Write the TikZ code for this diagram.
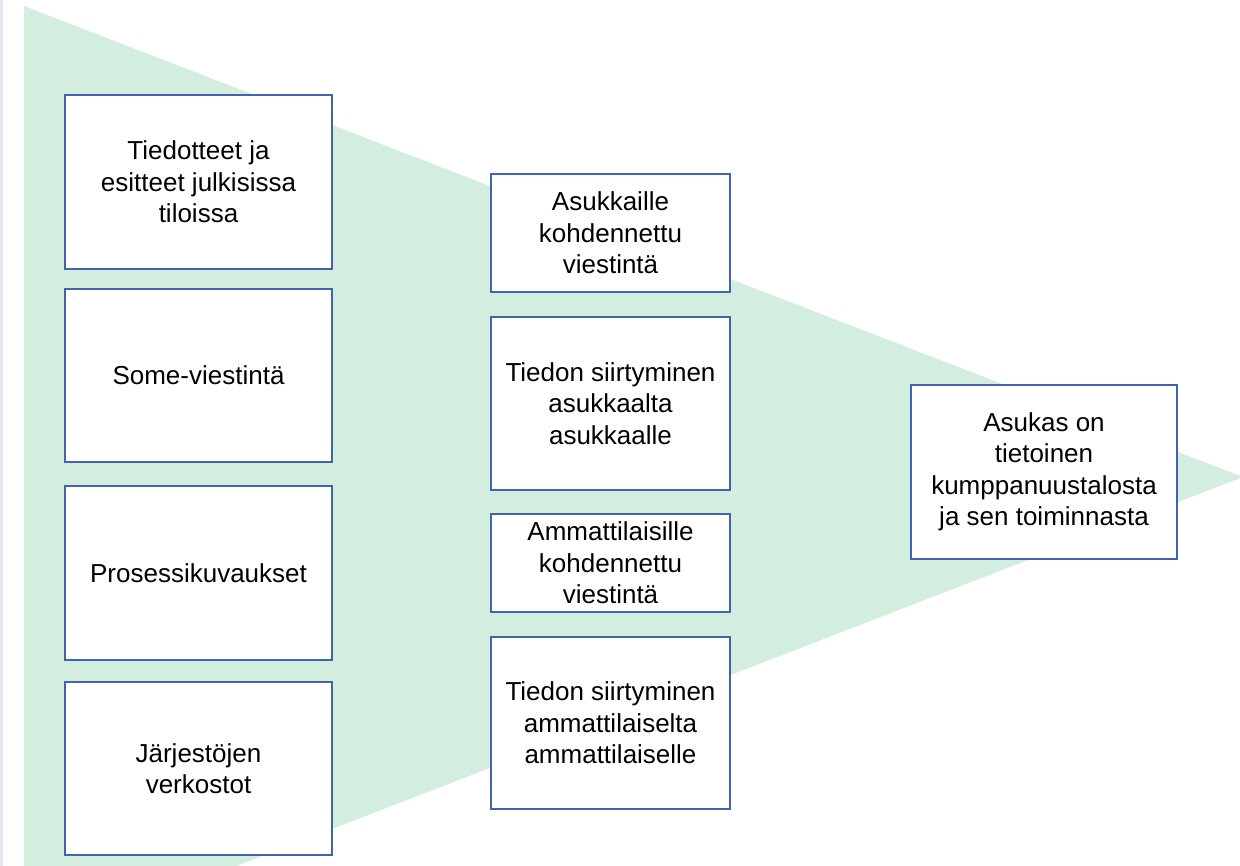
\documentclass[tikz,border=0pt]{standalone}
\usepackage{fontspec}
\setmainfont{Liberation Sans}
\definecolor{funnelgreen}{HTML}{D3EEDF}
\definecolor{edgeblue}{HTML}{4264AE}
\definecolor{stripblue}{HTML}{E2E9F5}
\begin{document}
\begin{tikzpicture}[x=1pt, y=-1pt,
  box/.style = {draw=edgeblue, line width=2.2pt, fill=white, align=center,
    inner sep=1pt, font=\fontsize{26}{31.5}\selectfont},
  wide/.style = {box, minimum width=267pt},
  narrow/.style = {box, minimum width=239pt}]
  \clip (0,0) rectangle (1240,866);
  \useasboundingbox (0,0) rectangle (1240,866);
  % background funnel
  \fill[stripblue] (0,0) rectangle (2.5,866);
  \fill[funnelgreen] (24,6) -- (1243,477) -- (24,948) -- cycle;
  % left column
  \node[wide, minimum height=174pt] (tiedotteet) at (198.5,182) {Tiedotteet ja\\esitteet julkisissa\\tiloissa};
  \node[wide, minimum height=173pt] (some) at (198.5,375.5) {Some-viestintä};
  \node[wide, minimum height=174pt] (prosessi) at (198.5,573) {Prosessikuvaukset};
  \node[wide, minimum height=173pt] (jarjestot) at (198.5,768.5) {Järjestöjen\\verkostot};
  % middle column
  \node[narrow, minimum height=118pt] (asukkaille) at (610.5,233) {Asukkaille\\kohdennettu\\viestintä};
  \node[narrow, minimum height=173pt] (asukkaalta) at (610.5,403.5) {Tiedon siirtyminen\\asukkaalta\\asukkaalle};
  \node[narrow, minimum height=98pt] (ammattilaisille) at (610.5,563) {Ammattilaisille\\kohdennettu\\viestintä};
  \node[narrow, minimum height=172pt] (ammattilaiselta) at (610.5,723) {Tiedon siirtyminen\\ammattilaiselta\\ammattilaiselle};
  % result
  \node[box, minimum width=266pt, minimum height=174pt] (tulos) at (1044,472) {Asukas on\\tietoinen\\kumppanuustalosta\\ja sen toiminnasta};
\end{tikzpicture}
\end{document}
